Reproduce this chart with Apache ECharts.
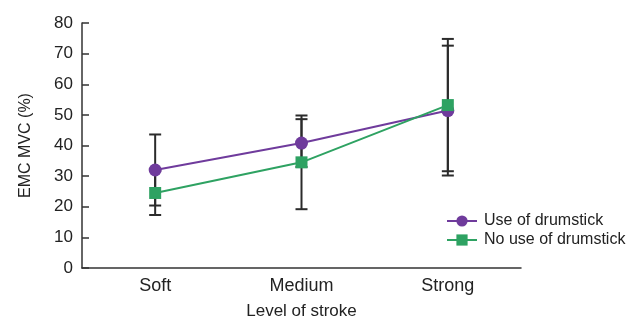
<!DOCTYPE html>
<html><head><meta charset="utf-8">
<script src="https://cdn.jsdelivr.net/npm/echarts@6/dist/echarts.min.js"></script>
<style>html,body{margin:0;padding:0;background:#fff}#c{width:633px;height:325px}</style>
</head><body><div id="c"></div>
<script>
const categories = ['Soft', 'Medium', 'Strong'];
const useMean = [32.0, 40.8, 51.4];
const useSD = [11.6, 7.8, 21.2];
const noUseMean = [24.5, 34.5, 53.2];
const noUseSD = [7.2, 15.3, 21.6];
const yTicks = [0, 10, 20, 30, 40, 50, 60, 70, 80];

const purple = '#6f3b9c';
const green = '#2ea262';
const font = 'Liberation Sans, Arial, sans-serif';

function errData(mean, sd) {
  return categories.map((c, i) => [i, mean[i] - sd[i], mean[i] + sd[i]]);
}
function renderErr(params, api) {
  const x = api.value(0);
  const lo = api.coord([x, api.value(1)]);
  const hi = api.coord([x, api.value(2)]);
  const w = 6;
  const st = { stroke: '#2b2b2b', lineWidth: 2 };
  return {
    type: 'group',
    children: [
      { type: 'line', shape: { x1: hi[0], y1: hi[1], x2: lo[0], y2: lo[1] }, style: st },
      { type: 'line', shape: { x1: hi[0] - w, y1: hi[1], x2: hi[0] + w, y2: hi[1] }, style: st },
      { type: 'line', shape: { x1: lo[0] - w, y1: lo[1], x2: lo[0] + w, y2: lo[1] }, style: st }
    ]
  };
}

const chart = echarts.init(document.getElementById('c'), null, { renderer: 'canvas' });
chart.setOption({
  animation: false,
  backgroundColor: '#fff',
  textStyle: { fontFamily: font },
  grid: { left: 82, right: 112, top: 23, bottom: 54 },
  legend: {
    orient: 'vertical', left: 441, top: 208,
    itemWidth: 30, itemHeight: 14, itemGap: 3,
    textStyle: { fontSize: 16, color: '#222', fontFamily: font, padding: [0, 0, 0, 2] },
    data: ['Use of drumstick', 'No use of drumstick']
  },
  xAxis: {
    type: 'category', data: categories,
    boundaryGap: true,
    name: 'Level of stroke', nameLocation: 'middle', nameGap: 35,
    nameTextStyle: { fontSize: 17, color: '#222', fontFamily: font },
    axisLine: { lineStyle: { color: '#333', width: 1.5 } },
    axisTick: { inside: true, length: 7, interval: 0, lineStyle: { color: '#333', width: 1.5 } },
    axisLabel: { fontSize: 18, color: '#222', margin: 9, fontFamily: font },
    splitLine: { show: false }
  },
  yAxis: {
    type: 'value', min: 0, max: 80, interval: 10,
    name: 'EMC MVC (%)', nameLocation: 'middle', nameGap: 48, nameRotate: 90,
    nameTextStyle: { fontSize: 16, color: '#222', fontFamily: font },
    axisLine: { show: true, lineStyle: { color: '#333', width: 1.5 } },
    axisTick: { show: true, inside: true, length: 7, lineStyle: { color: '#333', width: 1.5 } },
    axisLabel: { fontSize: 17, color: '#222', margin: 9, fontFamily: font,
      formatter: v => yTicks.includes(v) ? String(v) : '' },
    splitLine: { show: false }
  },
  series: [
    { type: 'custom', name: 'errUse', renderItem: renderErr, data: errData(useMean, useSD), z: 1,
      encode: { x: 0, y: [1, 2] }, silent: true },
    { type: 'custom', name: 'errNoUse', renderItem: renderErr, data: errData(noUseMean, noUseSD), z: 1,
      encode: { x: 0, y: [1, 2] }, silent: true },
    { type: 'line', name: 'Use of drumstick', data: useMean, z: 3,
      symbol: 'circle', symbolSize: 13, itemStyle: { color: purple },
      lineStyle: { color: purple, width: 2 } },
    { type: 'line', name: 'No use of drumstick', data: noUseMean, z: 4,
      symbol: 'rect', symbolSize: 12, itemStyle: { color: green },
      lineStyle: { color: green, width: 2 } }
  ]
});
</script></body></html>
